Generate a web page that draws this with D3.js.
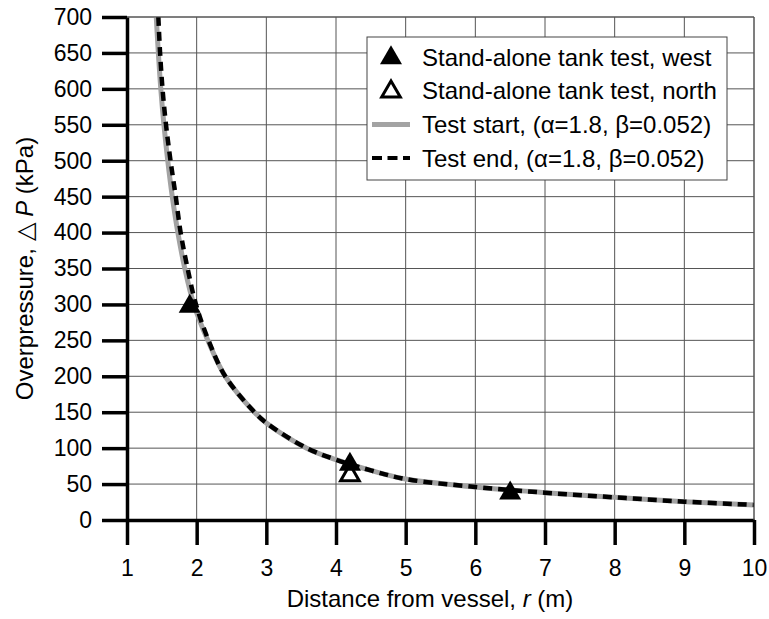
<!DOCTYPE html>
<html>
<head>
<meta charset="utf-8">
<script src="https://cdn.jsdelivr.net/npm/d3@7/dist/d3.min.js"></script>
<style>
  html, body { margin: 0; padding: 0; background: #fff; }
  svg { display: block; }
  text { font-family: "Liberation Sans", Arial, sans-serif; fill: #000; }
</style>
</head>
<body>
<svg id="chart" width="769" height="619"></svg>
<script>
// Axis ticks
const xTicks = [1, 2, 3, 4, 5, 6, 7, 8, 9, 10];
const yTicks = [0, 50, 100, 150, 200, 250, 300, 350, 400, 450, 500, 550, 600, 650, 700];

// Measured overpressure (kPa) versus distance r (m)
const westR = [1.9, 4.2, 6.5];
const westP = [300, 80, 40];
const northR = [4.2];
const northP = [65];

// Fitted curve, test start
const startR = [1.42, 1.45, 1.485, 1.53, 1.585, 1.65, 1.73, 1.83, 1.96, 2.16, 2.41, 2.83, 3.0, 3.58, 4.0, 4.5, 5.0, 6.0, 7.0, 8.0, 9.0, 10.0];
const startP = [700, 650, 600, 550, 500, 450, 400, 350, 300, 250, 200, 150, 135, 100, 84, 69, 57, 46, 38, 31.5, 25.5, 21];

// Fitted curve, test end
const endR = [1.45, 1.475, 1.51, 1.56, 1.625, 1.70, 1.77, 1.87, 1.99, 2.17, 2.41, 2.83, 3.0, 3.58, 4.0, 4.5, 5.0, 6.0, 7.0, 8.0, 9.0, 10.0];
const endP = [700, 650, 600, 550, 500, 450, 400, 350, 300, 250, 200, 150, 135, 100, 84, 69, 57, 46, 38, 31.5, 25.5, 21];

const legendLabels = [
  "Stand-alone tank test, west",
  "Stand-alone tank test, north",
  "Test start, (\u03B1=1.8, \u03B2=0.052)",
  "Test end, (\u03B1=1.8, \u03B2=0.052)"
];

const svg = d3.select("#chart");
const pLeft = 127, pRight = 754, pTop = 17, pBottom = 520;

const x = d3.scaleLinear().domain([1, 10]).range([pLeft, pRight]);
const y = d3.scaleLinear().domain([0, 700]).range([pBottom, pTop]);

// Grid
const grid = svg.append("g").attr("stroke", "#555").attr("stroke-width", 1);
grid.selectAll("line.v").data(xTicks.slice(1)).join("line")
  .attr("x1", d => x(d)).attr("x2", d => x(d))
  .attr("y1", pTop).attr("y2", pBottom);
grid.selectAll("line.h").data(yTicks.slice(1)).join("line")
  .attr("x1", pLeft).attr("x2", pRight)
  .attr("y1", d => y(d)).attr("y2", d => y(d));

// Curves
svg.append("clipPath").attr("id", "plotClip")
  .append("rect").attr("x", pLeft).attr("y", pTop)
  .attr("width", pRight - pLeft).attr("height", pBottom - pTop);

const line = d3.line().x(d => x(d[0])).y(d => y(d[1])).curve(d3.curveCatmullRom.alpha(0.5));
const plot = svg.append("g").attr("clip-path", "url(#plotClip)");

plot.append("path")
  .datum(startR.map((r, i) => [r, startP[i]]))
  .attr("d", line)
  .attr("fill", "none").attr("stroke", "#a3a3a3").attr("stroke-width", 5);

plot.append("path")
  .datum(endR.map((r, i) => [r, endP[i]]))
  .attr("d", line)
  .attr("fill", "none").attr("stroke", "#000").attr("stroke-width", 4.5)
  .attr("stroke-dasharray", "9,6");

// Markers
const tri = d3.symbol().type(d3.symbolTriangle);
svg.append("g").selectAll("path")
  .data(northR.map((r, i) => [r, northP[i]]))
  .join("path")
  .attr("d", tri.size(150)())
  .attr("transform", d => `translate(${x(d[0])},${y(d[1]) + 2})`)
  .attr("fill", "#fff").attr("stroke", "#000").attr("stroke-width", 3);

svg.append("g").selectAll("path")
  .data(westR.map((r, i) => [r, westP[i]]))
  .join("path")
  .attr("d", tri.size(210)())
  .attr("transform", d => `translate(${x(d[0])},${y(d[1]) + 2})`)
  .attr("fill", "#000");

// Axes
const axisY = svg.append("g").attr("transform", `translate(${pLeft},0)`)
  .call(d3.axisLeft(y).tickValues(yTicks).tickSize(25).tickSizeOuter(0).tickPadding(10));
const axisX = svg.append("g").attr("transform", `translate(0,${pBottom})`)
  .call(d3.axisBottom(x).tickValues(xTicks).tickSize(25).tickSizeOuter(0).tickPadding(15));

[axisX, axisY].forEach(a => {
  a.select(".domain").attr("stroke", "#000").attr("stroke-width", 3.5);
  a.selectAll(".tick line").attr("stroke", "#000").attr("stroke-width", 3.5);
  a.selectAll(".tick text")
    .attr("font-size", 23).attr("font-family", "Liberation Sans, Arial, sans-serif").attr("fill", "#000");
});

// Plot frame, top and right
svg.append("line").attr("x1", pLeft).attr("x2", pRight).attr("y1", pTop).attr("y2", pTop)
  .attr("stroke", "#555").attr("stroke-width", 1);
svg.append("line").attr("x1", pRight).attr("x2", pRight).attr("y1", pTop).attr("y2", pBottom)
  .attr("stroke", "#555").attr("stroke-width", 1);

// Axis titles
const xTitle = svg.append("text")
  .attr("x", 430).attr("y", 607).attr("text-anchor", "middle").attr("font-size", 24);
xTitle.append("tspan").text("Distance from vessel, ");
xTitle.append("tspan").attr("font-style", "italic").text("r");
xTitle.append("tspan").text(" (m)");

const yTitle = svg.append("text")
  .attr("transform", `translate(33,${(pTop + pBottom) / 2}) rotate(-90)`)
  .attr("text-anchor", "middle").attr("font-size", 24);
yTitle.append("tspan").text("Overpressure, \u25B3 ");
yTitle.append("tspan").attr("font-style", "italic").text("P");
yTitle.append("tspan").text(" (kPa)");

// Legend
const lg = svg.append("g");
lg.append("rect").attr("x", 367).attr("y", 37).attr("width", 360).attr("height", 143)
  .attr("fill", "#fff").attr("stroke", "#444").attr("stroke-width", 1);
const rowY = i => 57 + i * 33.7;
legendLabels.forEach((t, i) => {
  lg.append("text").attr("x", 422).attr("y", rowY(i) + 8.5).attr("font-size", 24).text(t);
});
lg.append("path").attr("d", tri.size(210)()).attr("transform", `translate(391,${rowY(0) + 1})`).attr("fill", "#000");
lg.append("path").attr("d", tri.size(150)()).attr("transform", `translate(391,${rowY(1) + 1})`)
  .attr("fill", "#fff").attr("stroke", "#000").attr("stroke-width", 3);
lg.append("line").attr("x1", 372).attr("x2", 410).attr("y1", rowY(2)).attr("y2", rowY(2))
  .attr("stroke", "#a3a3a3").attr("stroke-width", 5);
lg.append("line").attr("x1", 372).attr("x2", 410).attr("y1", rowY(3)).attr("y2", rowY(3))
  .attr("stroke", "#000").attr("stroke-width", 4).attr("stroke-dasharray", "10,5.5");
</script>
</body>
</html>
